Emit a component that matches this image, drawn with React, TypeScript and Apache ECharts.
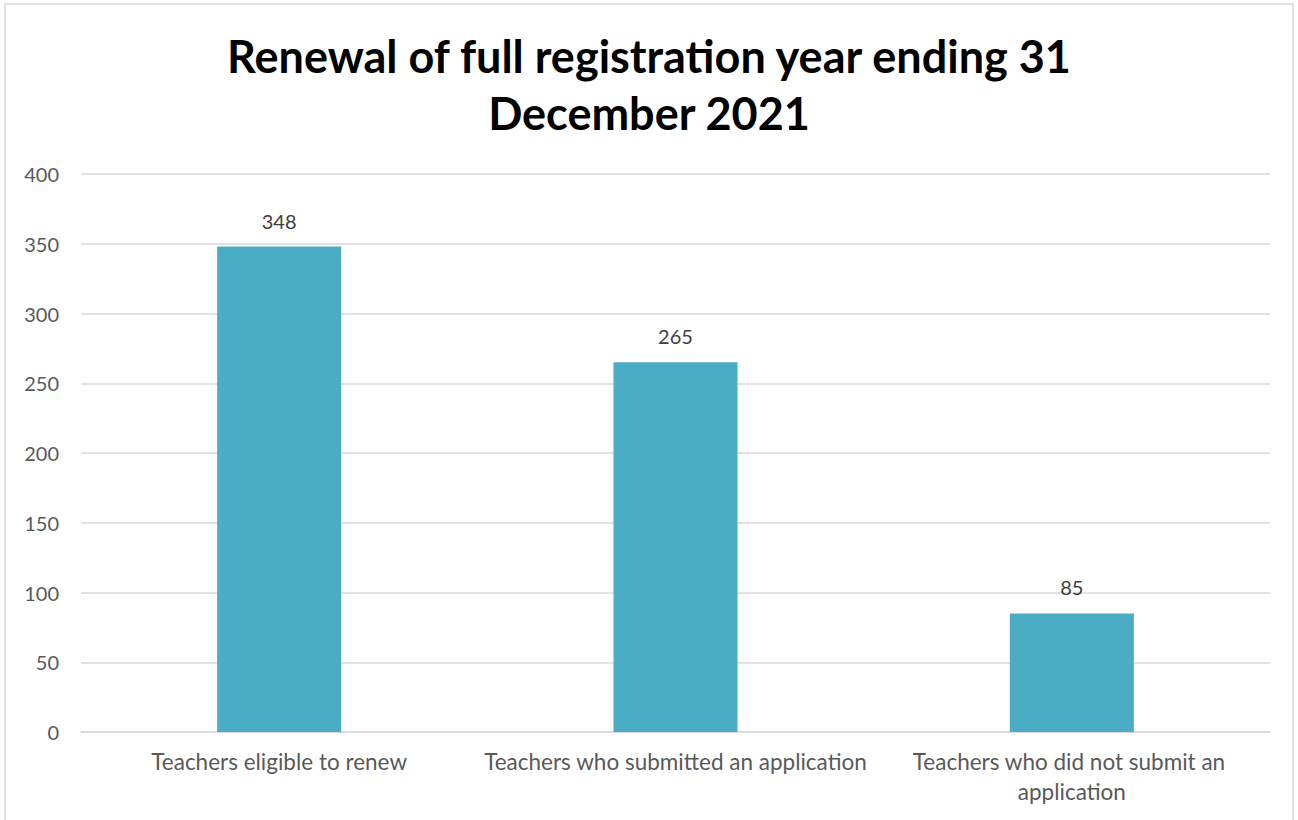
import React, { useEffect, useRef } from "react";
import * as echarts from "echarts";

const titleLines = ["Renewal of full registration year ending 31", "December 2021"];
const categories = [
  "Teachers eligible to renew",
  "Teachers who submitted an application",
  "Teachers who did not submit an application",
];
const values = [348, 265, 85];
const yTicks = { min: 0, max: 400, interval: 50 };

const FONT = "Lato, 'Open Sans', sans-serif";

export default function App() {
  const ref = useRef<HTMLDivElement>(null);
  useEffect(() => {
    if (!ref.current) return;
    const chart = echarts.init(ref.current, undefined, { renderer: "svg" });
    chart.setOption({
      animation: false,
      backgroundColor: "#ffffff",
      title: {
        text: titleLines.join("\n"),
        left: "center",
        top: 22,
        textStyle: {
          fontFamily: FONT,
          fontSize: 45,
          fontWeight: "bold",
          color: "#000000",
          lineHeight: 57,
        },
      },
      graphic: [
        {
          type: "rect",
          shape: { x: 5, y: 4, width: 1288, height: 830 },
          style: { fill: "none", stroke: "#d9d9d9", lineWidth: 1.5 },
          silent: true,
        },
      ],
      grid: { left: 81, right: 28, top: 174, bottom: 88 },
      xAxis: {
        type: "category",
        data: categories,
        axisLine: { lineStyle: { color: "#d9d9d9", width: 1.5 } },
        axisTick: { show: false },
        axisLabel: {
          fontFamily: FONT,
          fontSize: 22.5,
          color: "#595959",
          margin: 14,
          width: 392,
          overflow: "break",
          lineHeight: 30,
          interval: 0,
        },
      },
      yAxis: {
        type: "value",
        min: yTicks.min,
        max: yTicks.max,
        interval: yTicks.interval,
        axisLine: { show: false },
        axisTick: { show: false },
        splitLine: { lineStyle: { color: "#d9d9d9", width: 1.5 } },
        axisLabel: {
          fontFamily: FONT,
          fontSize: 20,
          color: "#595959",
          margin: 22,
        },
      },
      series: [
        {
          type: "bar",
          data: values,
          barWidth: "31.3%",
          itemStyle: { color: "#4bacc6" },
          label: {
            show: true,
            position: "top",
            distance: 16,
            fontFamily: FONT,
            fontSize: 20,
            color: "#404040",
          },
        },
      ],
    });
    return () => chart.dispose();
  }, []);
  return (
    <div
      ref={ref}
      style={{ position: "fixed", left: 0, top: 0, width: 1298, height: 820 }}
    />
  );
}
